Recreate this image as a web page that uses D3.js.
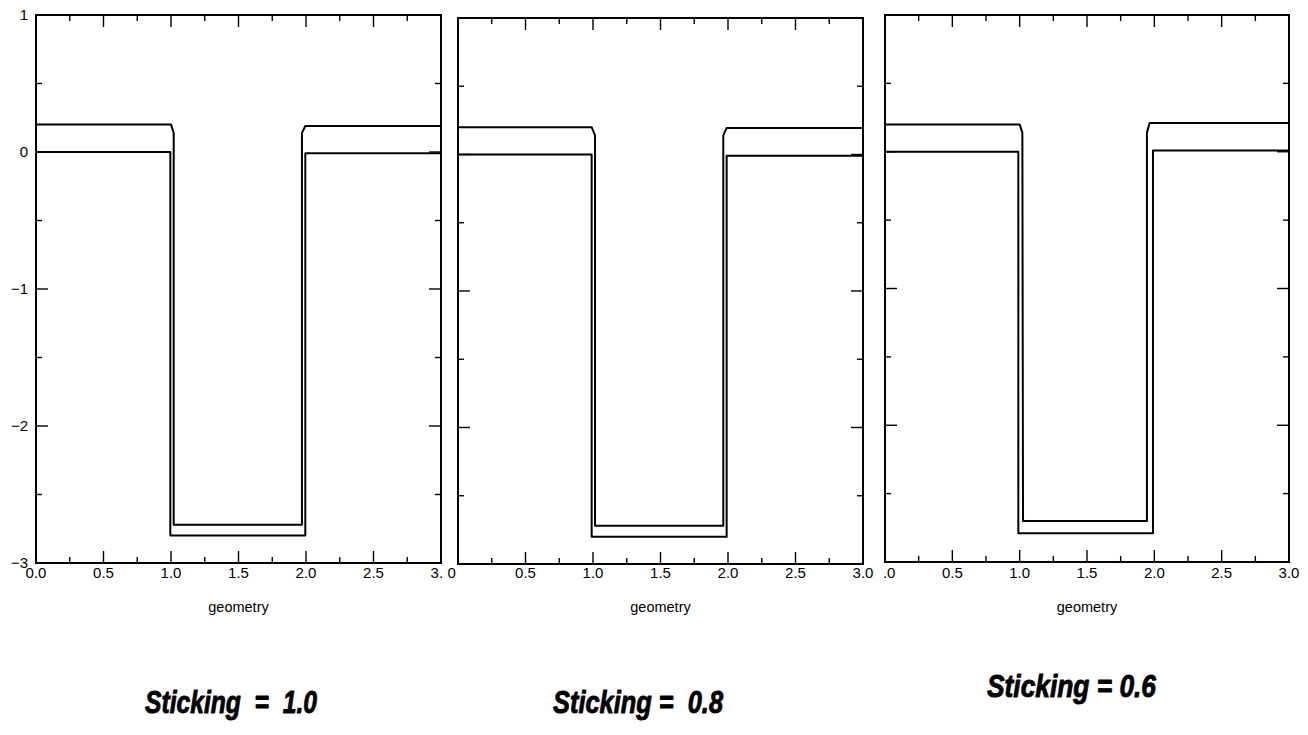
<!DOCTYPE html>
<html>
<head>
<meta charset="utf-8">
<script src="https://cdn.jsdelivr.net/npm/d3@7"></script>
<style>
  html, body { margin: 0; padding: 0; background: #fff; }
  svg { display: block; }
  text { font-family: "Liberation Sans", Arial, Helvetica, sans-serif; fill: #000; }
</style>
</head>
<body>
<svg id="chart" width="1308" height="735"></svg>
<script>
// ---------------- data ----------------
const xDomain = [0, 3];
const yDomain = [-3, 1];
const xTickValues = [0, 0.5, 1, 1.5, 2, 2.5, 3];
// labels as printed in each panel (the outer ones are cut off in the original)
const xTickLabels10 = ["0.0", "0.5", "1.0", "1.5", "2.0", "2.5", "3."];
const xTickLabels08 = ["0", "0.5", "1.0", "1.5", "2.0", "2.5", "3.0"];
const xTickLabels06 = [".0", "0.5", "1.0", "1.5", "2.0", "2.5", "3.0"];
const xTickFull = ["0.0", "0.5", "1.0", "1.5", "2.0", "2.5", "3.0"];
const xMinorTicks = [0.25, 0.75, 1.25, 1.75, 2.25, 2.75];
const yTickValues = [-3, -2, -1, 0, 1];
const yTickLabels = ["\u22123", "\u22122", "\u22121", "0", "1"];
const yMinorTicks = [-2.5, -1.5, -0.5, 0.5];
const xAxisTitle = "geometry";
const stickingLabels = ["Sticking  =  1.0", "Sticking =  0.8", "Sticking = 0.6"];

// Sticking = 1.0
const upper10 = [[0, 0.20], [1.00, 0.20], [1.02, 0.14], [1.02, -2.72], [1.97, -2.72], [1.97, 0.14], [1.995, 0.19], [3.0, 0.19]];
const lower10 = [[0, 0.0], [0.995, 0.0], [0.995, -2.80], [1.995, -2.80], [1.995, -0.01], [3.0, -0.01]];
// Sticking = 0.8
const upper08 = [[0, 0.20], [0.99, 0.20], [1.015, 0.14], [1.015, -2.72], [1.965, -2.72], [1.965, 0.14], [1.99, 0.195], [3.0, 0.195]];
const lower08 = [[0, 0.0], [0.99, 0.0], [0.99, -2.80], [1.99, -2.80], [1.99, -0.01], [3.0, -0.01]];
// Sticking = 0.6
const upper06 = [[0, 0.20], [1.00, 0.20], [1.02, 0.14], [1.025, -2.70], [1.945, -2.70], [1.945, 0.14], [1.965, 0.21], [3.0, 0.21]];
const lower06 = [[0, 0.0], [0.99, 0.0], [0.99, -2.79], [1.99, -2.79], [1.99, 0.01], [3.0, 0.01]];

const seriesByPanel = [[upper10, lower10], [upper08, lower08], [upper06, lower06]];
const labelsByPanel = [xTickLabels10, xTickLabels08, xTickLabels06];

// ---------------- layout ----------------
const layout = [
  { x0: 36,  x1: 441,  y0: 15, y1: 563, tx: 145, ty: 713, tw: 172, showY: true },
  { x0: 458, x1: 863,  y0: 18, y1: 564, tx: 553, ty: 713, tw: 170, showY: false },
  { x0: 885, x1: 1289, y0: 15, y1: 562, tx: 987, ty: 697, tw: 169, showY: false }
];

const svg = d3.select("#chart");

// measure the full label width so cut labels sit where the full ones would
function textWidth(str, size) {
  const t = svg.append("text").attr("font-size", size).text(str);
  const w = t.node().getComputedTextLength();
  t.remove();
  return w;
}

layout.forEach((L, i) => {
  const x = d3.scaleLinear().domain(xDomain).range([L.x0, L.x1]);
  const y = d3.scaleLinear().domain(yDomain).range([L.y1, L.y0]);
  const g = svg.append("g").attr("class", "panel-" + i);

  // ticks (inward on all four sides)
  const tk = g.append("g").attr("stroke", "#000").attr("stroke-width", 1.4);
  const major = 12, minor = 6;
  xTickValues.forEach(v => {
    tk.append("line").attr("x1", x(v)).attr("x2", x(v)).attr("y1", L.y1).attr("y2", L.y1 - major);
    tk.append("line").attr("x1", x(v)).attr("x2", x(v)).attr("y1", L.y0).attr("y2", L.y0 + major);
  });
  xMinorTicks.forEach(v => {
    tk.append("line").attr("x1", x(v)).attr("x2", x(v)).attr("y1", L.y1).attr("y2", L.y1 - minor);
    tk.append("line").attr("x1", x(v)).attr("x2", x(v)).attr("y1", L.y0).attr("y2", L.y0 + minor);
  });
  yTickValues.forEach(v => {
    tk.append("line").attr("y1", y(v)).attr("y2", y(v)).attr("x1", L.x0).attr("x2", L.x0 + major);
    tk.append("line").attr("y1", y(v)).attr("y2", y(v)).attr("x1", L.x1).attr("x2", L.x1 - major);
  });
  yMinorTicks.forEach(v => {
    tk.append("line").attr("y1", y(v)).attr("y2", y(v)).attr("x1", L.x0).attr("x2", L.x0 + minor);
    tk.append("line").attr("y1", y(v)).attr("y2", y(v)).attr("x1", L.x1).attr("x2", L.x1 - minor);
  });

  // frame
  g.append("rect")
    .attr("x", L.x0).attr("y", L.y0)
    .attr("width", L.x1 - L.x0).attr("height", L.y1 - L.y0)
    .attr("fill", "none").attr("stroke", "#000").attr("stroke-width", 2);

  // curves
  const line = d3.line().x(d => x(d[0])).y(d => y(d[1]));
  seriesByPanel[i].forEach(s => {
    g.append("path").datum(s).attr("d", line)
      .attr("fill", "none").attr("stroke", "#000")
      .attr("stroke-width", 2).attr("stroke-linejoin", "round");
  });

  // x tick labels
  const labels = labelsByPanel[i];
  xTickValues.forEach((v, k) => {
    const full = xTickFull[k], shown = labels[k];
    const t = g.append("text").attr("y", 578).attr("font-size", 15).text(shown);
    if (shown === full) {
      t.attr("x", x(v)).attr("text-anchor", "middle");
    } else if (full.startsWith(shown)) {
      t.attr("x", x(v) - textWidth(full, 15) / 2).attr("text-anchor", "start");
    } else {
      t.attr("x", x(v) + textWidth(full, 15) / 2).attr("text-anchor", "end");
    }
  });

  g.append("text").attr("x", x(1.5)).attr("y", 612)
    .attr("text-anchor", "middle").attr("font-size", 14.5)
    .text(xAxisTitle);

  if (L.showY) {
    yTickValues.forEach((v, k) => {
      g.append("text").attr("x", L.x0 - 8).attr("y", y(v) + 5)
        .attr("text-anchor", "end").attr("font-size", 15)
        .text(yTickLabels[k]);
    });
  }

  // sticking label (heavy italic, as in the original)
  svg.append("text")
    .attr("x", L.tx).attr("y", L.ty)
    .attr("font-size", 31).attr("font-weight", "bold").attr("font-style", "italic")
    .attr("stroke", "#000").attr("stroke-width", 0.9).attr("stroke-linejoin", "round")
    .attr("textLength", L.tw).attr("lengthAdjust", "spacingAndGlyphs")
    .style("white-space", "pre")
    .text(stickingLabels[i]);
});
</script>
</body>
</html>
